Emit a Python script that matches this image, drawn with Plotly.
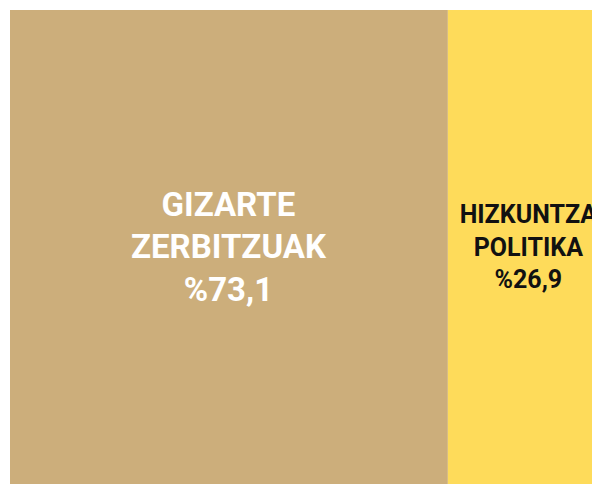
import plotly.graph_objects as go

labels = ["GIZARTE<br>ZERBITZUAK", "HIZKUNTZA<br>POLITIKA"]
values = [73.1, 26.9]
pct_text = ["%73,1", "%26,9"]
colors = ["#CCAE7B", "#FEDB5A"]
text_colors = ["#FFFFFF", "#111111"]

fig = go.Figure(go.Treemap(
    labels=labels,
    parents=["", ""],
    values=values,
    text=pct_text,
    texttemplate="<b>%{label}<br>%{text}</b>",
    textposition="middle center",
    marker=dict(colors=colors, line=dict(width=0), pad=dict(t=0, l=0, r=0, b=0)),
    textfont=dict(family="Roboto", size=[33, 25], color=text_colors),
    sort=False,
    tiling=dict(packing="slice-dice", pad=0),
    hoverinfo="skip",
))
fig.update_layout(
    width=601, height=476,
    margin=dict(l=2, r=0, t=2, b=0),
    paper_bgcolor="white",
)
fig.write_html("out.html")
